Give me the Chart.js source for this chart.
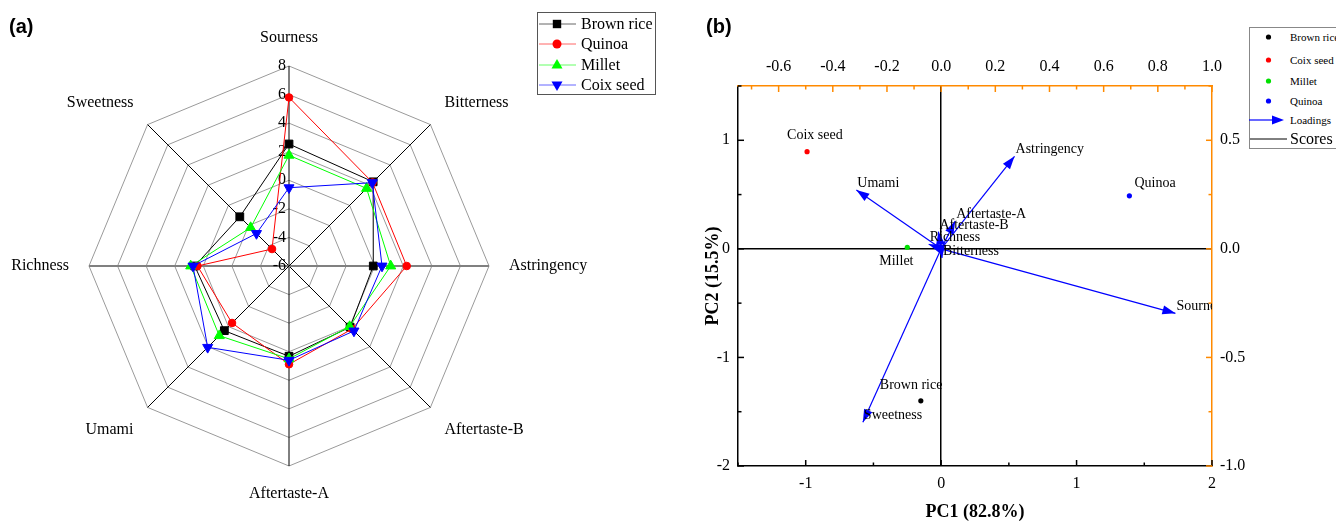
<!DOCTYPE html>
<html>
<head>
<meta charset="utf-8">
<script src="https://cdn.jsdelivr.net/npm/chart.js@4.4.1/dist/chart.umd.min.js"></script>
<style>
body { margin: 0; width: 1336px; height: 521px; overflow: hidden; position: relative; background: #fff; font-family: 'Liberation Serif', 'Times New Roman', serif; }
.tag { position: absolute; font: bold 20px 'Liberation Sans', Arial, sans-serif; line-height: 20px; }
.wrap { position: absolute; top: 0; }
.box { position: absolute; background: #fff; box-sizing: border-box; }
#legendA { left: 537px; top: 12px; width: 119px; height: 83px; border: 1px solid #555; }
#legendA .row { position: absolute; left: 0; height: 20px; width: 117px; }
#legendA svg { position: absolute; left: 1px; top: 0; }
#legendA span { position: absolute; left: 43px; top: 0; font-size: 16px; line-height: 20px; white-space: nowrap; }
#legendB { left: 1249px; top: 27px; width: 110px; height: 122px; border: 1px solid #888; }
#legendB .row { position: absolute; left: 0; width: 108px; }
#legendB span { position: absolute; left: 40px; white-space: nowrap; }
</style>
</head>
<body>
<div class="wrap" style="left:0"><canvas id="radar" width="680" height="521"></canvas></div>
<div class="wrap" style="left:680px"><canvas id="biplot" width="656" height="521"></canvas></div>
<div class="tag" style="left:9px;top:16px">(a)</div>
<div class="tag" style="left:706px;top:16px">(b)</div>
<div id="legendA" class="box"></div>
<div id="legendB" class="box"></div>
<script>
// ---- (a) radar: e-tongue taste attributes ----
const attributes = ['Sourness', 'Bitterness', 'Astringency', 'Aftertaste-B', 'Aftertaste-A', 'Umami', 'Richness', 'Sweetness'];
const seriesNames = ['Brown rice', 'Quinoa', 'Millet', 'Coix seed'];
const brownRice = [2.54, 2.33, -0.1, 0.05, 0.32, 0.4, 0.6, -1.13];
const quinoa = [5.8, 2.27, 2.24, 0.24, 0.88, -0.36, 0.41, -4.32];
const millet = [1.75, 1.68, 1.12, 0.0, 0.5, 0.9, 0.88, -2.2];
const coixSeed = [-0.52, 2.25, 0.51, 0.43, 0.6, 2.05, 0.72, -2.78];
const radarTicks = [-6, -4, -2, 0, 2, 4, 6, 8];

// ---- (b) PCA biplot ----
const sampleNames = ['Brown rice', 'Coix seed', 'Millet', 'Quinoa'];
const scorePC1 = [-0.15, -0.99, -0.25, 1.39];
const scorePC2 = [-1.40, 0.895, 0.015, 0.488];
const loadingNames = ['Sourness', 'Bitterness', 'Astringency', 'Aftertaste-B', 'Aftertaste-A', 'Umami', 'Richness', 'Sweetness'];
const loadingPC1 = [0.865, 0.003, 0.271, -0.01, 0.052, -0.313, -0.046, -0.289];
const loadingPC2 = [-0.297, -0.042, 0.426, 0.079, 0.128, 0.271, 0.021, -0.799];
const pc1Ticks = [-1, 0, 1, 2];
const pc2Ticks = [-2, -1, 0, 1];
const loadXTicks = [-0.6, -0.4, -0.2, 0, 0.2, 0.4, 0.6, 0.8, 1.0];
const loadYTicks = [-1.0, -0.5, 0, 0.5];

// styles
const serif = "'Liberation Serif', 'Times New Roman', serif";
const orange = '#ff8a00';
const radarColors = ['#000000', '#ff0000', '#00ff00', '#0000ff'];
const radarMarkers = [
  { style: 'rect', r: 5.5, rot: 0 },
  { style: 'circle', r: 3.8, rot: 0 },
  { style: 'triangle', r: 5.8, rot: 0 },
  { style: 'triangle', r: 5.8, rot: 180 }
];
const scoreColors = ['#000000', '#ff0000', '#00e000', '#0000ff'];
const scoreLabelOffsets = [[-41, -12], [-20, -13], [-28, 18], [5, -9]];

const radarData = [brownRice, quinoa, millet, coixSeed];

// radar tick values + attribute names, placed with the scale's own geometry
const radarText = {
  id: 'radarText',
  beforeDatasetsDraw(chart) {
    const s = chart.scales.r;
    const ctx = chart.ctx;
    ctx.save();
    ctx.font = '16px ' + serif;
    ctx.fillStyle = '#000';
    ctx.textAlign = 'right';
    ctx.textBaseline = 'middle';
    radarTicks.forEach(v => {
      const d = s.getDistanceFromCenterForValue(v);
      ctx.fillText(String(v), s.xCenter - 3, s.yCenter - d);
    });
    const n = attributes.length;
    attributes.forEach((lab, i) => {
      const p = s.getPointPosition(i, s.drawingArea + 20);
      const deg = i * 360 / n;
      ctx.textAlign = (deg === 0 || deg === 180) ? 'center' : (deg < 180 ? 'left' : 'right');
      ctx.textBaseline = (deg === 90 || deg === 270) ? 'middle' : ((deg < 90 || deg > 270) ? 'bottom' : 'top');
      ctx.fillText(lab, p.x, p.y);
    });
    ctx.restore();
  }
};

new Chart(document.getElementById('radar'), {
  type: 'radar',
  data: {
    labels: attributes,
    datasets: seriesNames.map((name, i) => ({
      label: name,
      data: radarData[i],
      borderColor: radarColors[i],
      backgroundColor: radarColors[i],
      borderWidth: 1,
      fill: false,
      tension: 0,
      pointStyle: radarMarkers[i].style,
      pointRadius: radarMarkers[i].r,
      pointRotation: radarMarkers[i].rot,
      pointBorderWidth: 1,
      pointBorderColor: radarColors[i],
      pointBackgroundColor: radarColors[i],
      order: seriesNames.length - i
    }))
  },
  options: {
    responsive: false,
    animation: false,
    layout: { padding: { left: 89, top: 66, right: 191, bottom: 55 } },
    plugins: { legend: { display: false }, tooltip: { enabled: false } },
    scales: {
      r: {
        min: -6,
        max: 8,
        ticks: { stepSize: 2, display: false },
        pointLabels: { display: false },
        grid: { color: '#9a9a9a', lineWidth: 1 },
        angleLines: {
          color: c => (c.index === 2 || c.index === 6) ? '#808080' : '#000',
          lineWidth: c => (c.index === 2 || c.index === 6) ? 2.2 : 1
        }
      }
    }
  },
  plugins: [radarText]
});

// ---- biplot ----
const minorSteps = { x: 0.5, y: 0.5, x2: 0.1, y2: 0.25 };

const biplotExtras = {
  id: 'biplotExtras',
  afterDatasetsDraw(chart) {
    const { ctx, chartArea: a, scales } = chart;
    ctx.save();

    // inward tick marks
    ['x', 'y', 'x2', 'y2'].forEach(id => {
      const s = scales[id];
      const step = minorSteps[id];
      ctx.strokeStyle = id.endsWith('2') ? orange : '#000';
      ctx.lineWidth = 1.5;
      for (let k = Math.ceil(s.min / step - 1e-9); k * step <= s.max + 1e-9; k++) {
        const v = k * step;
        const major = s.ticks.some(t => Math.abs(t.value - v) < 1e-9);
        const len = major ? 6 : 3.5;
        const p = s.getPixelForValue(v);
        ctx.beginPath();
        if (s.position === 'bottom') { ctx.moveTo(p, a.bottom); ctx.lineTo(p, a.bottom - len); }
        if (s.position === 'top') { ctx.moveTo(p, a.top); ctx.lineTo(p, a.top + len); }
        if (s.position === 'left') { ctx.moveTo(a.left, p); ctx.lineTo(a.left + len, p); }
        if (s.position === 'right') { ctx.moveTo(a.right, p); ctx.lineTo(a.right - len, p); }
        ctx.stroke();
      }
    });

    // arrow heads at loading tips
    const x2 = scales.x2, y2 = scales.y2;
    const ox = x2.getPixelForValue(0), oy = y2.getPixelForValue(0);
    ctx.fillStyle = '#0000ff';
    loadingNames.forEach((name, i) => {
      const tx = x2.getPixelForValue(loadingPC1[i]);
      const ty = y2.getPixelForValue(loadingPC2[i]);
      const ang = Math.atan2(ty - oy, tx - ox);
      const L = 13, W = 4.5;
      const bx = tx - L * Math.cos(ang), by = ty - L * Math.sin(ang);
      ctx.beginPath();
      ctx.moveTo(tx, ty);
      ctx.lineTo(bx - W * Math.sin(ang), by + W * Math.cos(ang));
      ctx.lineTo(bx + W * Math.sin(ang), by - W * Math.cos(ang));
      ctx.closePath();
      ctx.fill();
    });

    // text labels (clipped to the plot frame like the original)
    ctx.beginPath();
    ctx.rect(a.left, a.top, a.right - a.left, a.bottom - a.top);
    ctx.clip();
    ctx.font = '14px ' + serif;
    ctx.fillStyle = '#000';
    ctx.textAlign = 'left';
    ctx.textBaseline = 'alphabetic';
    loadingNames.forEach((name, i) => {
      const tx = x2.getPixelForValue(loadingPC1[i]);
      const ty = y2.getPixelForValue(loadingPC2[i]);
      ctx.fillText(name, tx + 1, ty - 3);
    });
    const xs = scales.x, ys = scales.y;
    sampleNames.forEach((name, i) => {
      const px = xs.getPixelForValue(scorePC1[i]);
      const py = ys.getPixelForValue(scorePC2[i]);
      ctx.fillText(name, px + scoreLabelOffsets[i][0], py + scoreLabelOffsets[i][1]);
    });
    ctx.restore();
  }
};

const tickFont = { family: serif, size: 16 };
const titleFont = { family: serif, size: 18, weight: 'bold', lineHeight: 1 };
const zeroLine = c => (c.tick && c.tick.value === 0) ? '#000' : 'rgba(0,0,0,0)';
const setTicks = arr => s => { s.ticks = arr.map(v => ({ value: v })); };

new Chart(document.getElementById('biplot'), {
  type: 'scatter',
  data: {
    datasets: [
      {
        label: 'Scores',
        data: scorePC1.map((x, i) => ({ x: x, y: scorePC2[i] })),
        xAxisID: 'x',
        yAxisID: 'y',
        pointRadius: 2.6,
        pointBorderWidth: 0,
        pointBackgroundColor: scoreColors,
        showLine: false
      }
    ].concat(loadingNames.map((name, i) => ({
      label: name,
      data: [{ x: 0, y: 0 }, { x: loadingPC1[i], y: loadingPC2[i] }],
      xAxisID: 'x2',
      yAxisID: 'y2',
      showLine: true,
      borderColor: '#0000ff',
      borderWidth: 1.2,
      pointRadius: 0,
      fill: false
    })))
  },
  options: {
    responsive: false,
    animation: false,
    layout: { padding: 0 },
    plugins: { legend: { display: false }, tooltip: { enabled: false } },
    scales: {
      x: {
        type: 'linear', position: 'bottom', min: -1.5, max: 2,
        afterBuildTicks: setTicks(pc1Ticks),
        ticks: { font: tickFont, color: '#000', padding: 8, autoSkip: false, maxRotation: 0, callback: v => String(v) },
        grid: { drawTicks: false, color: zeroLine, lineWidth: 1.5 },
        border: { color: '#000', width: 1.5 },
        title: { display: true, text: 'PC1 (82.8%)', font: titleFont, color: '#000', padding: { top: 0, bottom: 0 } },
        afterFit: s => { s.height = 55; }
      },
      y: {
        type: 'linear', position: 'left', min: -2, max: 1.5,
        afterBuildTicks: setTicks(pc2Ticks),
        ticks: { font: tickFont, color: '#000', padding: 8, autoSkip: false, callback: v => String(v) },
        grid: { drawTicks: false, color: zeroLine, lineWidth: 1.5 },
        border: { color: '#000', width: 1.5 },
        title: { display: true, text: 'PC2 (15.5%)', font: titleFont, color: '#000', padding: { top: 24, bottom: 0 } },
        afterFit: s => { s.width = 58; }
      },
      x2: {
        type: 'linear', position: 'top', min: -0.75, max: 1,
        afterBuildTicks: setTicks(loadXTicks),
        ticks: { font: tickFont, color: '#000', padding: 10, autoSkip: false, maxRotation: 0, callback: v => v.toFixed(1) },
        grid: { display: false, drawTicks: false },
        border: { color: orange, width: 1.5 },
        afterFit: s => { s.height = 86; }
      },
      y2: {
        type: 'linear', position: 'right', min: -1, max: 0.75,
        afterBuildTicks: setTicks(loadYTicks),
        ticks: { font: tickFont, color: '#000', padding: 8, autoSkip: false, callback: v => v.toFixed(1) },
        grid: { display: false, drawTicks: false },
        border: { color: orange, width: 1.5 },
        afterFit: s => { s.width = 124; }
      }
    }
  },
  plugins: [biplotExtras]
});

// ---- legends ----
function markerSvg(i) {
  const c = radarColors[i];
  const cx = 18, cy = 10;
  let m = '';
  if (i === 0) m = `<rect x="${cx - 4.2}" y="${cy - 4.2}" width="8.4" height="8.4" fill="${c}"/>`;
  if (i === 1) m = `<circle cx="${cx}" cy="${cy}" r="4.5" fill="${c}"/>`;
  if (i === 2) m = `<polygon points="${cx},${cy - 6} ${cx + 5.5},${cy + 3.5} ${cx - 5.5},${cy + 3.5}" fill="${c}"/>`;
  if (i === 3) m = `<polygon points="${cx},${cy + 6} ${cx + 5.5},${cy - 3.5} ${cx - 5.5},${cy - 3.5}" fill="${c}"/>`;
  return `<svg width="38" height="20"><line x1="0" y1="${cy}" x2="37" y2="${cy}" stroke="${c}" stroke-opacity="0.6" stroke-width="1"/>${m}</svg>`;
}
const legA = document.getElementById('legendA');
legA.innerHTML = seriesNames.map((name, i) =>
  `<div class="row" style="top:${1 + i * 20.3}px">${markerSvg(i)}<span>${name}</span></div>`).join('');

const legB = document.getElementById('legendB');
let htmlB = sampleNames.map((name, i) =>
  `<div class="row" style="top:${[9, 32, 53, 73][i] - 8}px;height:16px">` +
  `<svg width="30" height="16" style="position:absolute;left:0;top:0"><circle cx="18.5" cy="8" r="2.6" fill="${scoreColors[i]}"/></svg>` +
  `<span style="font-size:11px;line-height:16px;top:0">${name}</span></div>`).join('');
htmlB += `<div class="row" style="top:84px;height:16px"><svg width="40" height="16" style="position:absolute;left:-1px;top:0">` +
  `<line x1="0" y1="8" x2="26" y2="8" stroke="#0000ff" stroke-width="1.2"/><polygon points="35,8 23,3.5 23,12.5" fill="#0000ff"/></svg>` +
  `<span style="font-size:11px;line-height:16px;top:0">Loadings</span></div>`;
htmlB += `<div class="row" style="top:100px;height:22px"><svg width="40" height="22" style="position:absolute;left:0;top:0">` +
  `<line x1="0" y1="11" x2="37" y2="11" stroke="#000" stroke-width="1"/></svg>` +
  `<span style="font-size:16px;line-height:22px;top:0">Scores</span></div>`;
legB.innerHTML = htmlB;
</script>
</body>
</html>
